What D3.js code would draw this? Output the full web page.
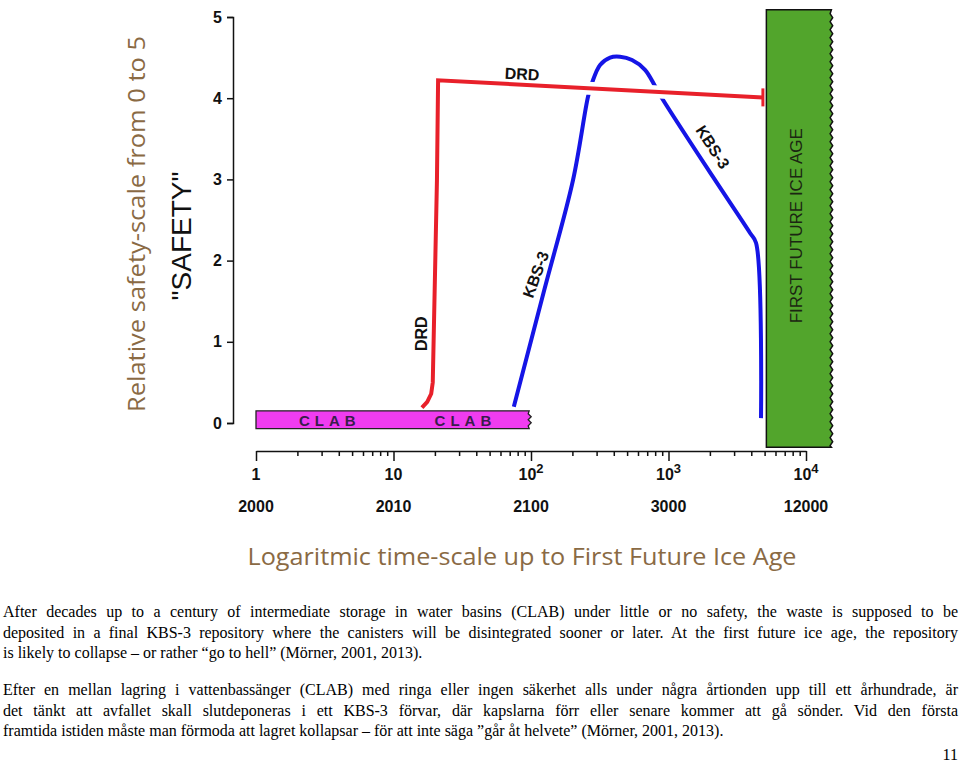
<!DOCTYPE html>
<html>
<head>
<meta charset="utf-8">
<script src="https://cdn.jsdelivr.net/npm/d3@7"></script>
<style>
  body { margin: 0; background: #fff; }
  svg { display: block; }
</style>
</head>
<body>
<div id="chart"></div>
<script>
// ---- data ----
var safetyTicks = [0, 1, 2, 3, 4, 5];
var decadeTicks = [1, 10, 100, 1000, 10000];
var decadeBase = ["1", "10", "10", "10", "10"];
var decadeExp = ["", "", "2", "3", "4"];
var yearLabels = ["2000", "2010", "2100", "3000", "12000"];

// CLAB storage bar (years, safety band)
var clabSpan = [1, 97];
var clabBand = [-0.07, 0.15];
var clabLabelTimes = [3.3, 32];

// first future ice age block
var iceAgeSpan = [5150, 15300];
var iceAgeBand = [-0.3, 5.09];

// DRD curve
var drdTime = [16.1, 17.6, 18.8, 19.3, 20.7, 21.1, 4860];
var drdSafety = [0.19, 0.26, 0.36, 0.5, 2.99, 4.22, 4.01];

// KBS-3 curve
var kbsTime = [75, 125, 202, 260, 278, 318, 376, 444, 543, 675, 798, 897, 2107, 3917, 4329, 4707];
var kbsSafety = [0.2, 1.64, 2.99, 4.02, 4.19, 4.41, 4.5, 4.51, 4.47, 4.35, 4.15, 4.0, 3.03, 2.34, 2.22, 0.06];

var captionEn = [
  "After decades up to a century of intermediate storage in water basins (CLAB) under little or no safety, the waste is supposed to be",
  "deposited in a final KBS-3 repository where the canisters will be disintegrated sooner or later. At the first future ice age, the repository",
  "is likely to collapse \u2013 or rather \u201cgo to hell\u201d (M\u00f6rner, 2001, 2013)."
];
var captionSv = [
  "Efter en mellan lagring i vattenbass\u00e4nger (CLAB) med ringa eller ingen s\u00e4kerhet alls under n\u00e5gra \u00e5rtionden upp till ett \u00e5rhundrade, \u00e4r",
  "det t\u00e4nkt att avfallet skall slutdeponeras i ett KBS-3 f\u00f6rvar, d\u00e4r kapslarna f\u00f6rr eller senare kommer att g\u00e5 s\u00f6nder. Vid den f\u00f6rsta",
  "framtida istiden m\u00e5ste man f\u00f6rmoda att lagret kollapsar \u2013 f\u00f6r att inte s\u00e4ga \u201dg\u00e5r \u00e5t helvete\u201d (M\u00f6rner, 2001, 2013)."
];

// ---- svg ----
var svgWidth = 960, svgHeight = 765;
var svg = d3.select("#chart").append("svg")
  .attr("width", svgWidth)
  .attr("height", svgHeight)
  .style("background", "#fff");

var x = d3.scaleLog().domain([1, 10000]).range([256, 806]);
var y = d3.scaleLinear().domain([0, 5]).range([423, 17]);

var brown = "#8a6a44";
var sans = "'Liberation Sans', Arial, Helvetica, sans-serif";

// ice age block with a wavy right edge
var ix0 = x(iceAgeSpan[0]), ix1 = x(iceAgeSpan[1]);
var iy0 = y(iceAgeBand[1]), iy1 = y(iceAgeBand[0]);
var icePts = [[ix0, iy0], [ix1, iy0]]
  .concat(d3.range(iy0 + 4, iy1, 4).map(function(v, i) { return [ix1 + (i % 2 ? 1.3 : -1.3), v]; }))
  .concat([[ix1, iy1], [ix0, iy1]]);
svg.append("path")
  .attr("d", d3.line()(icePts) + "Z")
  .attr("fill", "#52a52c")
  .attr("stroke", "#111")
  .attr("stroke-width", 1.5);

svg.append("text")
  .attr("transform", "translate(" + x(8460) + "," + y(2.43) + ") rotate(-90)")
  .attr("text-anchor", "middle")
  .attr("dy", "0.35em")
  .attr("font-family", sans)
  .attr("font-size", 17)
  .attr("fill", "#1b2612")
  .text("FIRST FUTURE ICE AGE");

// CLAB bar with torn right edge
var cx0 = x(clabSpan[0]), cx1 = x(clabSpan[1]);
var cy0 = y(clabBand[1]), cy1 = y(clabBand[0]);
var clabPts = [[cx0, cy0], [cx1, cy0]]
  .concat(d3.range(cy0 + 3, cy1, 3).map(function(v, i) { return [cx1 + (i % 2 ? 2 : -1), v]; }))
  .concat([[cx1, cy1], [cx0, cy1]]);
svg.append("path")
  .attr("d", d3.line()(clabPts) + "Z")
  .attr("fill", "#f03cf0")
  .attr("stroke", "#222")
  .attr("stroke-width", 1.3);

svg.selectAll("text.clab")
  .data(clabLabelTimes)
  .enter()
  .append("text")
  .classed("clab", true)
  .attr("x", function(d) { return x(d) + 2.5; })
  .attr("y", y(0.03))
  .attr("dy", "0.36em")
  .attr("text-anchor", "middle")
  .attr("font-family", sans)
  .attr("font-weight", "bold")
  .attr("font-size", 15)
  .attr("letter-spacing", 5)
  .attr("fill", "#3a1d4c")
  .text("CLAB");

// y axis
var yAxis = d3.axisLeft(y)
  .tickValues(safetyTicks)
  .tickFormat(d3.format("d"))
  .tickSize(6)
  .tickSizeOuter(6)
  .tickPadding(5);
var yG = svg.append("g")
  .attr("transform", "translate(233,0)")
  .call(yAxis);
yG.selectAll("path, line").attr("stroke", "#111").attr("stroke-width", 1.5);
yG.selectAll("text")
  .attr("font-family", sans)
  .attr("font-weight", "bold")
  .attr("font-size", 16)
  .attr("fill", "#111");

// x axis (log)
var xAxis = d3.axisBottom(x).tickValues(x.ticks()).tickFormat("").tickSize(5).tickSizeOuter(0);
var xG = svg.append("g")
  .attr("transform", "translate(0,451)")
  .call(xAxis);
xG.selectAll("path, line").attr("stroke", "#111").attr("stroke-width", 1.5);
xG.selectAll(".tick line")
  .attr("y2", function(d) { return Math.abs(Math.log10(d) % 1) < 1e-9 ? 10 : 5; });

var decLab = svg.selectAll("text.dec")
  .data(decadeTicks)
  .enter()
  .append("text")
  .classed("dec", true)
  .attr("x", function(d) { return x(d); })
  .attr("y", 480)
  .attr("text-anchor", "middle")
  .attr("font-family", sans)
  .attr("font-weight", "bold")
  .attr("font-size", 16)
  .attr("fill", "#111");
decLab.append("tspan").text(function(d, i) { return decadeBase[i]; });
decLab.append("tspan")
  .attr("dy", -7)
  .attr("font-size", 13)
  .text(function(d, i) { return decadeExp[i]; });

svg.selectAll("text.year")
  .data(decadeTicks)
  .enter()
  .append("text")
  .classed("year", true)
  .attr("x", function(d) { return x(d); })
  .attr("y", 512)
  .attr("text-anchor", "middle")
  .attr("font-family", sans)
  .attr("font-weight", "bold")
  .attr("font-size", 16)
  .attr("fill", "#111")
  .text(function(d, i) { return yearLabels[i]; });

// KBS-3 curve
var kbsData = kbsTime.map(function(t, i) { return [t, kbsSafety[i]]; });
var curveLine = d3.line()
  .x(function(d) { return x(d[0]); })
  .y(function(d) { return y(d[1]); });
svg.append("path")
  .attr("d", curveLine.curve(d3.curveCatmullRom.alpha(0.5))(kbsData))
  .attr("fill", "none")
  .attr("stroke", "#1515e6")
  .attr("stroke-width", 4)
  .attr("stroke-linejoin", "round");

// DRD curve: white halo where it crosses KBS-3
var drdData = drdTime.map(function(t, i) { return [t, drdSafety[i]]; });
svg.append("path")
  .attr("d", curveLine.curve(d3.curveLinear)(drdData.slice(-2)))
  .attr("fill", "none")
  .attr("stroke", "#fff")
  .attr("stroke-width", 13);
svg.append("path")
  .attr("d", curveLine.curve(d3.curveLinear)(drdData))
  .attr("fill", "none")
  .attr("stroke", "#e8202a")
  .attr("stroke-width", 4)
  .attr("stroke-linejoin", "miter");
var drdEnd = drdData[drdData.length - 1];
svg.append("line")
  .attr("x1", x(drdEnd[0]))
  .attr("x2", x(drdEnd[0]))
  .attr("y1", y(drdEnd[1]) - 9)
  .attr("y2", y(drdEnd[1]) + 9)
  .attr("stroke", "#e8202a")
  .attr("stroke-width", 3);

// curve labels
function curveLabel(t, s, angle, txt) {
  svg.append("text")
    .attr("transform", "translate(" + x(t) + "," + y(s) + ") rotate(" + angle + ")")
    .attr("text-anchor", "middle")
    .attr("dy", "0.36em")
    .attr("font-family", sans)
    .attr("font-weight", "bold")
    .attr("font-size", 16)
    .attr("fill", "#111")
    .text(txt);
}
curveLabel(15.8, 1.1, -90, "DRD");
curveLabel(86, 4.3, 3, "DRD");
curveLabel(108, 1.83, -70, "KBS-3");
curveLabel(2100, 3.4, 57, "KBS-3");

// axis titles
svg.append("text")
  .attr("transform", "translate(137,224) rotate(-90)")
  .attr("text-anchor", "middle")
  .attr("dy", "0.35em")
  .attr("font-family", "'Open Sans', sans-serif")
  .attr("font-size", 24)
  .attr("fill", brown)
  .attr("textLength", 376)
  .attr("lengthAdjust", "spacingAndGlyphs")
  .text("Relative safety-scale from 0 to 5");

svg.append("text")
  .attr("transform", "translate(181,236) rotate(-90)")
  .attr("text-anchor", "middle")
  .attr("dy", "0.36em")
  .attr("font-family", sans)
  .attr("font-size", 28)
  .attr("fill", "#111")
  .text("\"SAFETY\"");

svg.append("text")
  .attr("x", 522)
  .attr("y", 565)
  .attr("text-anchor", "middle")
  .attr("font-family", "'Open Sans', sans-serif")
  .attr("font-size", 24)
  .attr("fill", brown)
  .attr("textLength", 549)
  .attr("lengthAdjust", "spacingAndGlyphs")
  .text("Logaritmic time-scale up to First Future Ice Age");

// caption paragraphs, justified
function para(lines, y0) {
  lines.forEach(function(line, i) {
    var t = svg.append("text")
      .attr("x", 3)
      .attr("y", y0 + i * 20.7)
      .attr("font-family", "'Liberation Serif', 'Times New Roman', serif")
      .attr("font-size", 16)
      .attr("fill", "#000")
      .text(line);
    if (i < lines.length - 1) {
      var w = t.node().getComputedTextLength();
      var gaps = line.split(" ").length - 1;
      t.attr("word-spacing", (955 - w) / gaps);
    }
  });
}
para(captionEn, 617);
para(captionSv, 695);

svg.append("text")
  .attr("x", 958)
  .attr("y", 760)
  .attr("text-anchor", "end")
  .attr("font-family", "'Liberation Serif', 'Times New Roman', serif")
  .attr("font-size", 16)
  .attr("fill", "#000")
  .text("11");
</script>
</body>
</html>
